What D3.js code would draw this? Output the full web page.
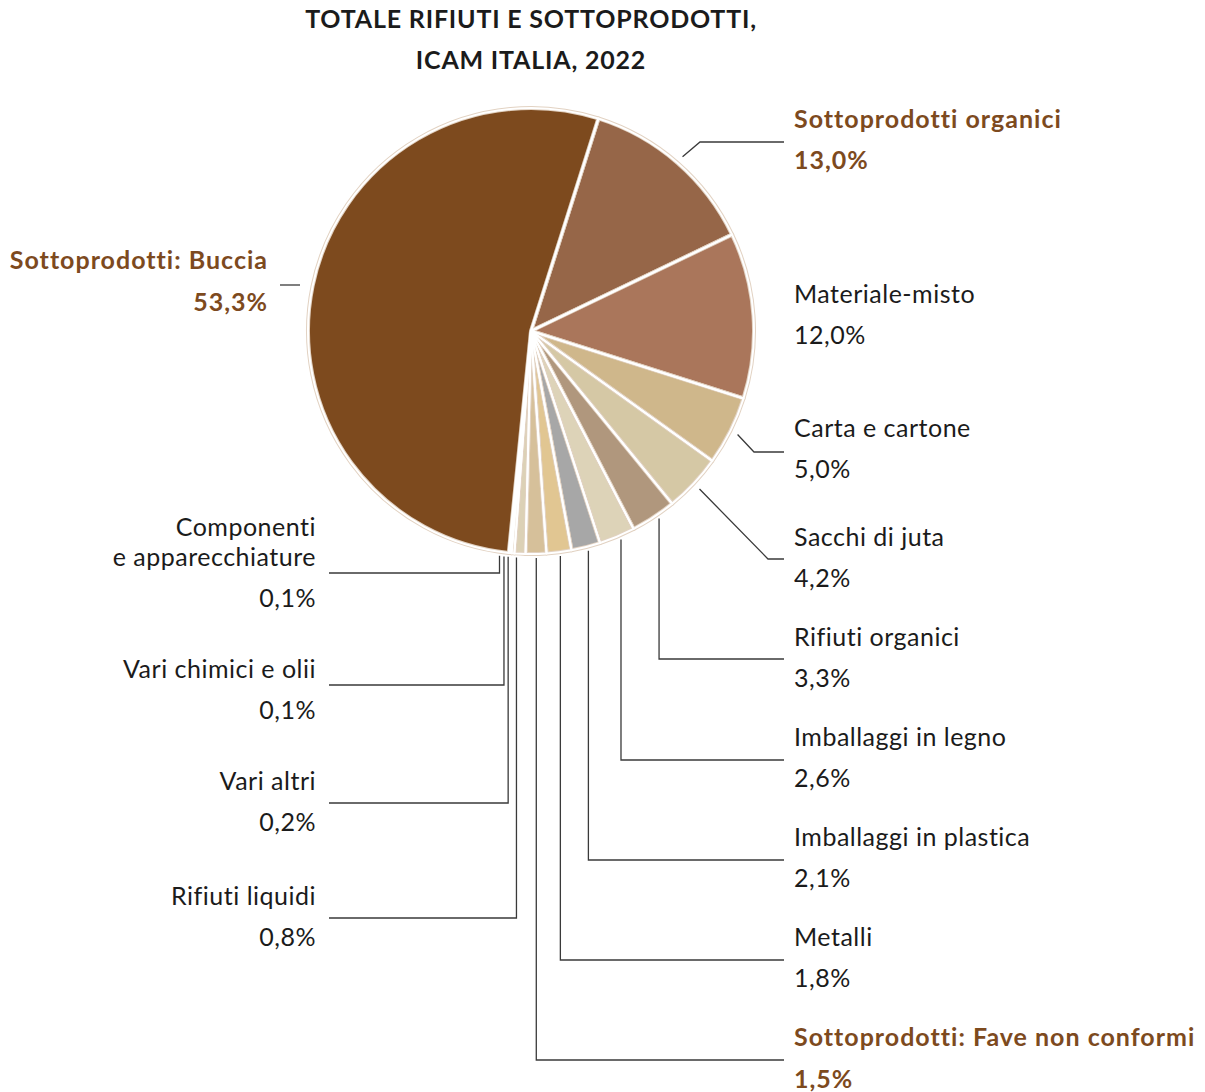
<!DOCTYPE html>
<html lang="it">
<head>
<meta charset="utf-8">
<title>Totale rifiuti e sottoprodotti, ICAM Italia, 2022</title>
<script src="https://cdn.jsdelivr.net/npm/d3@7"></script>
<style>
  html, body { margin: 0; padding: 0; background: #fff; }
  svg { display: block; }
  text { font-family: Lato, "Open Sans", sans-serif; }
</style>
</head>
<body>
<svg id="chart" width="1205" height="1092"></svg>
<script>
// Waste and by-product shares, ICAM Italia 2022 (clockwise from the top)
const categories = [
  "Sottoprodotti organici",
  "Materiale-misto",
  "Carta e cartone",
  "Sacchi di juta",
  "Rifiuti organici",
  "Imballaggi in legno",
  "Imballaggi in plastica",
  "Metalli",
  "Sottoprodotti: Fave non conformi",
  "Rifiuti liquidi",
  "Vari altri",
  "Vari chimici e olii",
  "Componenti\ne apparecchiature",
  "Sottoprodotti: Buccia"
];
const values = [13.0, 12.0, 5.0, 4.2, 3.3, 2.6, 2.1, 1.8, 1.5, 0.8, 0.2, 0.1, 0.1, 53.3];
const byProducts = ["Sottoprodotti organici", "Sottoprodotti: Fave non conformi", "Sottoprodotti: Buccia"];
const sliceColors = [
  "#966648", "#aa765b", "#cfb78b", "#d5c8a5", "#b0977d", "#ddd3b8", "#a7a7a7",
  "#e1c692", "#d6c09a", "#dcd1b6", "#d8ccb0", "#ddd2b9", "#e0d6bf", "#7d4a1e"
];

// Label placement: side, leader type, y of the leader's horizontal run,
// baselines of the name and of the percentage
const labelLayout = {
  "Sottoprodotti organici":           { side: "right", type: "elbow", elbowX: 700, lineY: 142, nameY: 128, pctY: 169 },
  "Materiale-misto":                  { side: "right", type: "none",  nameY: 303, pctY: 344 },
  "Carta e cartone":                  { side: "right", type: "elbow", elbowX: 754, lineY: 452, nameY: 437, pctY: 478 },
  "Sacchi di juta":                   { side: "right", type: "elbow", elbowX: 768, lineY: 559, nameY: 546, pctY: 587 },
  "Rifiuti organici":                 { side: "right", type: "drop", lineY: 659, nameY: 646, pctY: 687 },
  "Imballaggi in legno":              { side: "right", type: "drop", lineY: 760, nameY: 746, pctY: 787 },
  "Imballaggi in plastica":           { side: "right", type: "drop", lineY: 860, nameY: 846, pctY: 887 },
  "Metalli":                          { side: "right", type: "drop", lineY: 960, nameY: 946, pctY: 987 },
  "Sottoprodotti: Fave non conformi": { side: "right", type: "drop", lineY: 1060, nameY: 1046, pctY: 1088 },
  "Rifiuti liquidi":                  { side: "left", type: "drop", shift: -3, lineY: 918, nameY: 905, pctY: 946 },
  "Vari altri":                       { side: "left", type: "drop", shift: -4, lineY: 803, nameY: 790, pctY: 831 },
  "Vari chimici e olii":              { side: "left", type: "drop", shift: -6, lineY: 685, nameY: 678, pctY: 719 },
  "Componenti\ne apparecchiature":    { side: "left", type: "drop", shift: -9, lineY: 573, nameY: 536, pctY: 607 },
  "Sottoprodotti: Buccia":            { side: "left", type: "short", textX: 268, lineY: 285, nameY: 269, pctY: 311 }
};

const titleLines = ["TOTALE RIFIUTI E SOTTOPRODOTTI,", "ICAM ITALIA, 2022"];

const svg = d3.select("#chart");
const cx = 531, cy = 331, R = 223;
const brown = "#7d4a1e", ink = "#1b1b1b", leader = "#3a3a3a";
const fmt = v => d3.format(".1f")(v).replace(".", ",") + "%";

// Title
svg.append("g").selectAll("text").data(titleLines).join("text")
  .attr("x", 531).attr("y", (d, i) => 28 + i * 41)
  .attr("text-anchor", "middle")
  .attr("font-size", 25).attr("font-weight", 700).attr("letter-spacing", 0.8)
  .attr("fill", ink)
  .text(d => d);

const data = categories.map((c, i) => ({ name: c, value: values[i], color: sliceColors[i] }));
const startA = 17.6 * Math.PI / 180;
const pie = d3.pie().value(d => d.value).sort(null)
  .startAngle(startA).endAngle(startA + 2 * Math.PI);
const arcs = pie(data);
const arc = d3.arc().innerRadius(0).outerRadius(R);

const g = svg.append("g").attr("transform", `translate(${cx},${cy})`);
// tan rim under a white separator
g.append("g").selectAll("path").data(arcs).join("path")
  .attr("d", arc).attr("fill", d => d.data.color)
  .attr("stroke", "#e2d2c2").attr("stroke-width", 4).attr("stroke-linejoin", "round");
g.append("g").selectAll("path").data(arcs).join("path")
  .attr("d", arc).attr("fill", "none")
  .attr("stroke", "#fff").attr("stroke-width", 2).attr("stroke-linejoin", "round");

// Leaders and labels
const lines = svg.append("g").attr("fill", "none").attr("stroke", leader).attr("stroke-width", 1.3);
const labels = svg.append("g");
const rightEnd = 784, leftEnd = 329, rightText = 794, leftText = 316;

arcs.forEach(a => {
  const L = labelLayout[a.data.name];
  const mid = (a.startAngle + a.endAngle) / 2;
  const right = L.side === "right";
  const endX = right ? rightEnd : leftEnd;
  let pts = null;
  if (L.type === "elbow") {
    const r0 = R + 8;
    pts = [[cx + r0 * Math.sin(mid), cy - r0 * Math.cos(mid)], [L.elbowX, L.lineY], [endX, L.lineY]];
  } else if (L.type === "drop") {
    const x = cx + (R + 10) * Math.sin(mid) + (L.shift || 0);
    const y0 = cy + Math.sqrt((R + 4) ** 2 - (x - cx) ** 2);
    pts = [[x, y0], [x, L.lineY], [endX, L.lineY]];
  } else if (L.type === "short") {
    pts = [[280, L.lineY], [300, L.lineY]];
  }
  if (pts) lines.append("path").attr("d", d3.line()(pts));

  const isBy = byProducts.includes(a.data.name);
  const t = labels.append("g")
    .attr("fill", isBy ? brown : ink)
    .attr("font-weight", isBy ? 700 : 400)
    .attr("font-size", 25)
    .attr("letter-spacing", isBy ? 1 : 0.5)
    .attr("text-anchor", right ? "start" : "end");
  const tx = L.textX || (right ? rightText : leftText);
  const nameLines = a.data.name.split("\n");
  nameLines.forEach((s, i) => {
    t.append("text").attr("x", tx).attr("y", L.nameY + i * 30).text(s);
  });
  t.append("text").attr("x", tx).attr("y", L.pctY).text(fmt(a.data.value));
});
</script>
</body>
</html>
